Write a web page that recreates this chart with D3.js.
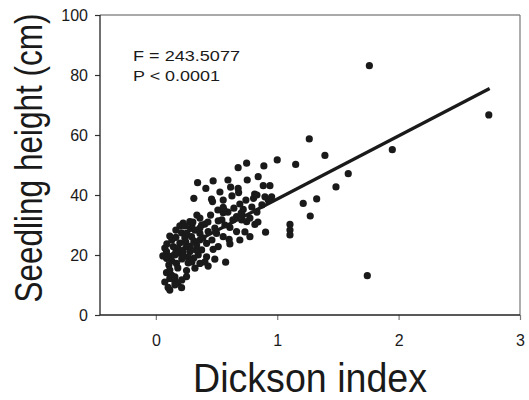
<!DOCTYPE html>
<html><head><meta charset="utf-8">
<script src="https://cdn.jsdelivr.net/npm/d3@7"></script>
<style>body{margin:0;background:#fff}svg{display:block}text{font-family:"Liberation Sans",Arial,sans-serif;fill:#1a1a1a}</style>
</head><body>
<script>
// Dickson index (x) and seedling height in cm (y)
const dicksonIndex = [1.759,2.743,1.264,1.393,1.948,1.0,1.152,0.89,0.748,0.843,0.753,1.585,0.885,0.94,1.484,0.814,0.805,0.899,0.954,0.926,1.325,1.214,1.272,1.105,1.105,1.105,0.816,0.904,0.775,1.742,0.678,
0.344,0.472,0.412,0.616,0.678,0.682,0.313,0.459,0.467,0.555,0.692,0.555,0.643,0.72,0.555,0.451,0.665,0.707,0.748,0.514,0.544,0.28,0.225,0.198,0.377,0.404,0.61,0.665,0.286,0.212,0.165,0.294,0.363,0.431,0.5,0.555,0.604,0.692,0.61,0.514,0.418,0.336,0.253,0.143,0.088,0.115,0.184,0.28,0.377,0.472,0.418,0.349,0.088,0.17,0.266,0.363,0.431,0.486,0.575,0.322,0.253,0.088,0.129,0.253,0.157,0.115,0.181,0.101,0.157,0.212,
0.132,0.198,0.239,0.313,0.181,0.223,0.313,0.132,0.214,0.107,0.181,0.363,0.462,0.256,0.322,0.429,0.486,0.569,0.635,0.594,0.511,0.363,0.297,0.734,0.775,0.791,0.833,0.742,0.627,0.528,0.594,0.874,0.841,0.264,0.404,0.33,0.157,0.833,0.563,0.703,0.709,
0.074,0.091,0.115,0.165,0.239,0.305,0.247,0.28,0.165,0.223,0.297,0.115,0.157,0.214,0.074,0.115,0.363,0.387,0.338,0.058];
const seedlingHeight = [83.1,66.7,58.7,53.2,55.1,51.7,50.2,49.7,50.6,46.1,45.0,47.1,43.1,43.1,42.7,40.3,38.9,39.4,39.4,38.3,38.7,37.2,33.0,30.2,28.3,26.7,30.2,27.6,26.1,13.1,49.1,
44.1,44.7,42.2,42.6,42.2,40.8,38.9,38.6,37.8,38.3,37.0,35.9,35.6,35.2,34.1,33.3,32.8,31.7,31.1,31.4,31.7,31.1,30.6,29.7,30.0,30.3,29.2,27.8,28.9,27.4,25.9,26.1,27.2,27.8,27.2,26.1,25.2,25.0,23.7,22.8,23.9,23.3,22.8,22.8,21.1,19.4,20.6,21.1,21.7,21.9,19.4,20.0,18.9,17.2,17.4,17.2,16.3,18.6,17.6,15.6,14.8,14.1,13.3,12.8,11.1,12.2,10.7,9.2,10.0,9.1,
25.0,24.0,25.7,24.7,22.3,21.0,19.0,18.0,18.7,16.7,15.7,25.0,25.0,27.3,28.3,31.0,29.0,30.0,31.7,34.3,35.0,32.3,30.0,27.7,32.3,36.0,34.3,38.3,39.7,41.0,45.0,36.7,31.0,19.3,17.7,21.7,20.0,40.0,35.0,34.0,33.5,
22.3,23.7,26.3,28.3,29.7,31.0,24.3,22.7,21.0,19.7,17.7,15.0,12.7,11.7,11.0,8.3,29.0,25.7,33.3,19.7];
const xTicks = [0,1,2,3];
const yTicks = [0,20,40,60,80,100];
const fitX = [0.1, 2.75];
const fitY = [19.7, 75.5];
const statLines = ["F = 243.5077", "P < 0.0001"];

const W = 529, H = 400;
const svg = d3.select("body").append("svg").attr("width", W).attr("height", H);
const x = d3.scaleLinear().domain([-0.46, 3]).range([100, 520]);
const y = d3.scaleLinear().domain([0, 100]).range([315, 15]);

// frame top/right
svg.append("line").attr("x1",100).attr("x2",520).attr("y1",15).attr("y2",15).attr("stroke","#555").attr("stroke-width",1.2);
svg.append("line").attr("x1",520).attr("x2",520).attr("y1",15).attr("y2",315).attr("stroke","#777").attr("stroke-width",1.2);

const gx = svg.append("g").attr("transform","translate(0,315)")
  .call(d3.axisBottom(x).tickValues(xTicks).tickFormat(d3.format("d")).tickSize(5).tickPadding(15));
gx.select(".domain").remove();
gx.selectAll(".tick line").attr("stroke","#777").attr("stroke-width",1.2);
gx.selectAll("text").attr("font-size",16).style("font-family","'Liberation Sans',Arial,sans-serif").attr("fill","#1a1a1a");

const gy = svg.append("g").attr("transform","translate(100,0)")
  .call(d3.axisLeft(y).tickValues(yTicks).tickSize(5).tickPadding(7));
gy.select(".domain").remove();
gy.selectAll(".tick line").attr("stroke","#333").attr("stroke-width",1.2);
gy.selectAll("text").attr("font-size",16).style("font-family","'Liberation Sans',Arial,sans-serif").attr("fill","#1a1a1a");

// axis lines
svg.append("line").attr("x1",100).attr("x2",520).attr("y1",315).attr("y2",315).attr("stroke","#222").attr("stroke-width",1.3);
svg.append("line").attr("x1",100).attr("x2",100).attr("y1",15).attr("y2",315).attr("stroke","#222").attr("stroke-width",1.3);

// points
svg.append("g").selectAll("circle").data(d3.range(dicksonIndex.length)).join("circle")
  .attr("cx", i => x(dicksonIndex[i])).attr("cy", i => y(seedlingHeight[i]))
  .attr("r", 3.6).attr("fill", "#1a1a1a");

// regression line
svg.append("line").attr("x1", x(fitX[0])).attr("y1", y(fitY[0])).attr("x2", x(fitX[1])).attr("y2", y(fitY[1]))
  .attr("stroke","#1a1a1a").attr("stroke-width",3.2);

// stats
svg.append("text").attr("x",133).attr("y",60.5).attr("font-size",15).attr("textLength",107).attr("lengthAdjust","spacingAndGlyphs").text(statLines[0]);
svg.append("text").attr("x",133).attr("y",80.5).attr("font-size",15).attr("textLength",87).attr("lengthAdjust","spacingAndGlyphs").text(statLines[1]);

// titles
svg.append("text").attr("x",310).attr("y",392).attr("text-anchor","middle").attr("font-size",41)
  .attr("textLength",234).attr("lengthAdjust","spacingAndGlyphs").text("Dickson index");
svg.append("text").attr("transform","translate(42,158) rotate(-90)").attr("text-anchor","middle").attr("font-size",39)
  .attr("textLength",289).attr("lengthAdjust","spacingAndGlyphs").text("Seedling height (cm)");
</script>
</body></html>
